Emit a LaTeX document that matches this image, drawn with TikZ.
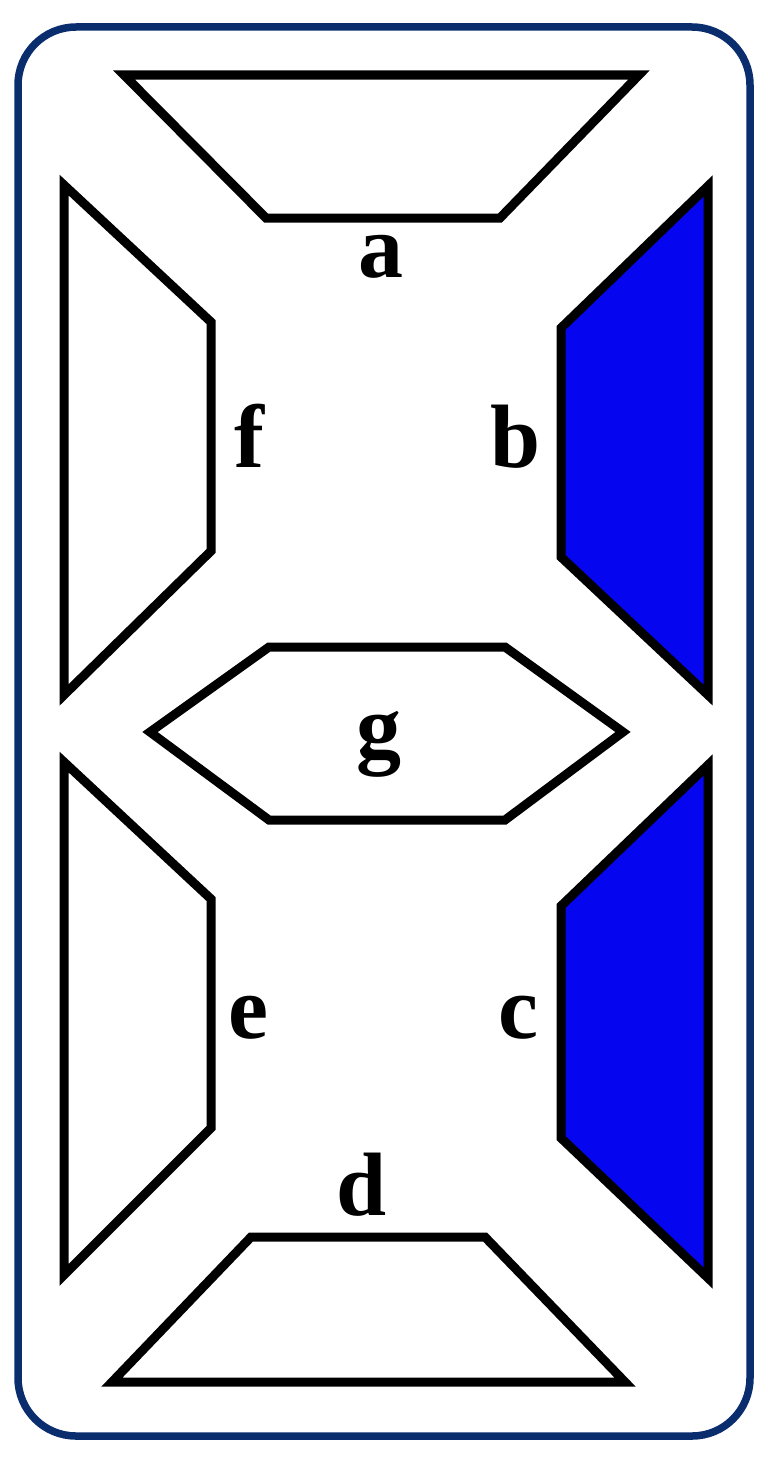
\documentclass[tikz,border=0pt]{standalone}
\usepackage{fontspec}
\setmainfont{Liberation Serif}
\definecolor{navy}{RGB}{10,45,110}
\definecolor{segblue}{RGB}{5,5,240}
\begin{document}
\begin{tikzpicture}[x=1pt,y=-1pt,
  seg/.style={draw=black,line width=9pt,line join=miter,fill=white},
  segon/.style={seg,fill=segblue},
  lbl/.style={font=\fontsize{90}{90}\selectfont\bfseries,anchor=base,inner sep=0pt}]
\useasboundingbox (0,0) rectangle (768,1464);
\fill[white] (0,0) rectangle (768,1464);
\draw[navy,line width=7.5pt,rounded corners=58pt] (18,27) rectangle (750,1436);
% a
\draw[seg] (124,75) -- (639,75) -- (500,218) -- (266,218) -- cycle;
% f
\draw[seg] (64,185) -- (211,322) -- (211,551) -- (64,695) -- cycle;
% b
\draw[segon] (708,186) -- (708,695) -- (561,557) -- (561,328) -- cycle;
% g
\draw[seg] (150,732) -- (269,647) -- (505,647) -- (623,732) -- (505,820) -- (269,820) -- cycle;
% e
\draw[seg] (64,762) -- (211,899) -- (211,1128) -- (64,1275) -- cycle;
% c
\draw[segon] (708,765) -- (708,1278) -- (561,1138) -- (561,906) -- cycle;
% d
\draw[seg] (251,1237) -- (485,1237) -- (625,1382) -- (112,1382) -- cycle;
\node[lbl] (la) at (381,277) {a};
\node[lbl] (lf) at (249,467) {f};
\node[lbl] (lb) at (516,467) {b};
\node[lbl] (lg) at (379,757) {g};
\node[lbl] (le) at (248,1038) {e};
\node[lbl] (lc) at (518,1038) {c};
\node[lbl] (ld) at (362,1215) {d};
\end{tikzpicture}
\end{document}
